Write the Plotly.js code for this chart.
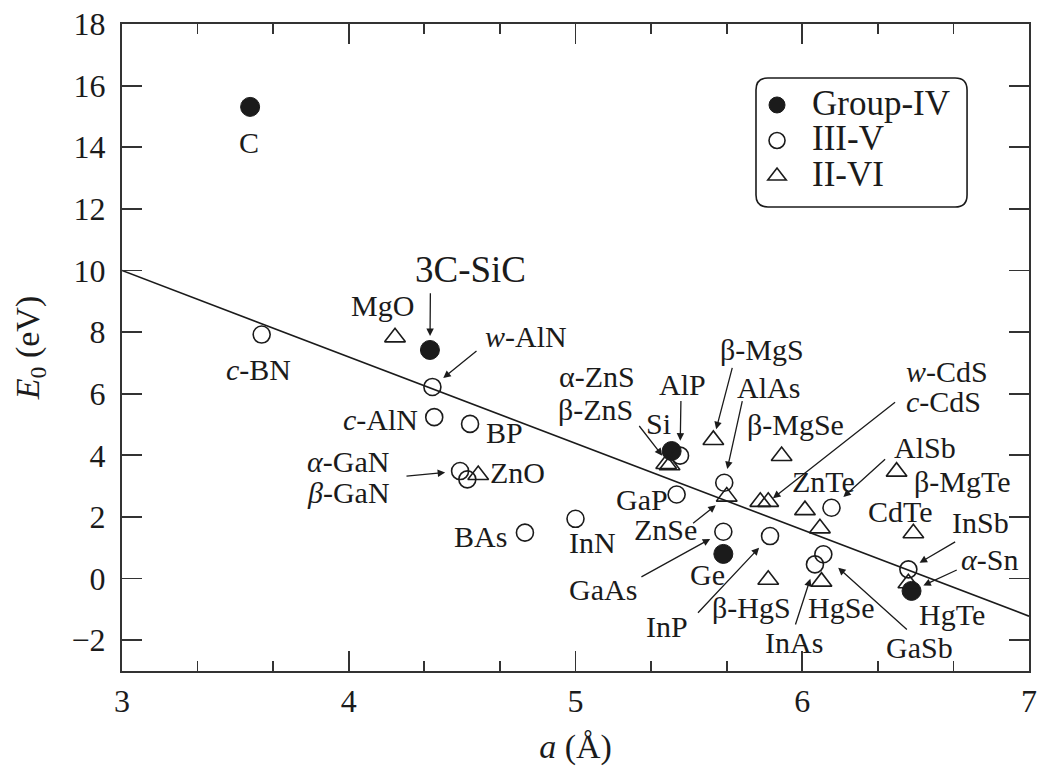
<!DOCTYPE html>
<html>
<head>
<meta charset="utf-8">
<script src="https://cdn.plot.ly/plotly-3.0.1.min.js"></script>
<style>
  html, body { margin: 0; padding: 0; background: #fff; }
  #chart { width: 1037px; height: 778px; }
</style>
</head>
<body>
<div id="chart"></div>
<script>
// Lattice constant a (Å) versus E0 gap (eV) for tetrahedral semiconductors

// Group-IV elements and SiC
const groupIVNames = ['C', '3C-SiC', 'Si', 'Ge', 'α-Sn'];
const groupIVA     = [3.565, 4.358, 5.424, 5.652, 6.482];
const groupIVE0    = [15.31, 7.42, 4.14, 0.80, -0.40];

// III-V compounds
const iiivNames = ['c-BN', 'w-AlN', 'c-AlN', 'BP', 'α-GaN', 'β-GaN', 'BAs', 'InN',
                   'AlP', 'GaP', 'AlAs', 'GaAs', 'InP', 'InAs', 'GaSb', 'AlSb', 'InSb'];
const iiivA     = [3.616, 4.369, 4.377, 4.535, 4.491, 4.523, 4.777, 5.000,
                   5.461, 5.446, 5.656, 5.652, 5.858, 6.056, 6.093, 6.129, 6.468];
const iiivE0    = [7.92, 6.22, 5.24, 5.02, 3.49, 3.22, 1.49, 1.94,
                   3.99, 2.73, 3.11, 1.52, 1.38, 0.46, 0.79, 2.30, 0.30];

// II-VI compounds
const iiviNames = ['MgO', 'ZnO', 'α-ZnS', 'β-ZnS', 'β-MgS', 'β-MgSe', 'ZnSe', 'c-CdS', 'w-CdS',
                   'ZnTe', 'CdSe', 'β-MgTe', 'CdTe', 'β-HgS', 'HgSe', 'HgTe'];
const iiviA     = [4.204, 4.571, 5.400, 5.415, 5.608, 5.909, 5.667, 5.815, 5.850,
                   6.012, 6.078, 6.416, 6.490, 5.850, 6.085, 6.468];
const iiviE0    = [7.83, 3.36, 3.72, 3.68, 4.50, 3.98, 2.66, 2.49, 2.49,
                   2.22, 1.63, 3.47, 1.47, -0.04, -0.10, -0.15];

// Linear trend line
const fitA  = [3, 7];
const fitE0 = [10.0, -1.22];

// Text labels (positions in data units)
const labelText = ['C', 'MgO', '3C-SiC', '<i>w</i>-AlN', '<i>c</i>-BN', '<i>c</i>-AlN', 'BP',
  '<i>α</i>-GaN', '<i>β</i>-GaN', 'ZnO', 'BAs', 'InN', 'α-ZnS', 'β-ZnS', 'AlP', 'Si',
  'β-MgS', 'AlAs', 'β-MgSe', '<i>w</i>-CdS', '<i>c</i>-CdS', 'ZnTe', 'AlSb', 'β-MgTe',
  'CdTe', 'InSb', '<i>α</i>-Sn', 'HgTe', 'GaSb', 'HgSe', 'InAs', 'β-HgS', 'InP', 'Ge',
  'GaAs', 'ZnSe', 'GaP'];
const labelA = [3.56, 4.147, 4.535, 4.782, 3.604, 4.142, 4.685,
  3.997, 3.997, 4.746, 4.579, 5.077, 5.095, 5.09, 5.47, 5.364,
  5.822, 5.853, 5.972, 6.638, 6.621, 6.092, 6.541, 6.704,
  6.435, 6.784, 6.824, 6.66, 6.515, 6.175, 5.964, 5.774, 5.404, 5.584,
  5.121, 5.395, 5.293];
const labelE0 = [14.14, 8.86, 10.03, 7.85, 6.78, 5.16, 4.74,
  3.80, 2.80, 3.45, 1.37, 1.18, 6.56, 5.49, 6.30, 5.03,
  7.43, 6.20, 5.00, 6.72, 5.75, 3.15, 4.26, 3.15,
  2.18, 1.83, 0.63, -1.16, -2.23, -0.93, -2.06, -0.93, -1.55, 0.14,
  -0.35, 1.60, 2.57];

// Pointer arrows: target compound, arrow tail (data units), gap before the marker (px)
const arrowTarget   = ['3C-SiC', 'w-AlN', 'α-GaN', 'β-ZnS', 'AlP', 'β-MgS', 'AlAs', 'w-CdS',
                       'AlSb', 'InSb', 'α-Sn', 'GaSb', 'InAs', 'InP', 'GaAs', 'ZnSe'];
const arrowTailA    = [4.36, 4.57, 4.248, 5.276, 5.465, 5.693, 5.737, 6.416,
                       6.372, 6.681, 6.688, 6.468, 5.968, 5.534, 5.284, 5.512];
const arrowTailE0   = [9.31, 7.43, 3.32, 5.00, 5.81, 6.89, 5.81, 5.76,
                       3.92, 1.22, 0.30, -1.70, -1.54, -1.16, 0.03, 1.76];
const arrowStandoff = [14, 14, 15, 12, 15, 11, 14, 6,
                       16, 13, 13, 20, 15, 16, 15, 14];

const FONT = 'Liberation Serif, Times New Roman, serif';
const INK = '#1b1b1b';

function findPoint(name) {
  const sets = [[groupIVNames, groupIVA, groupIVE0], [iiivNames, iiivA, iiivE0], [iiviNames, iiviA, iiviE0]];
  for (const [n, a, e] of sets) {
    const i = n.indexOf(name);
    if (i >= 0) return [a[i], e[i]];
  }
  return null;
}

const traces = [
  {
    x: fitA, y: fitE0, mode: 'lines', type: 'scatter',
    line: { color: INK, width: 1.6 }, showlegend: false, hoverinfo: 'skip'
  },
  {
    x: groupIVA, y: groupIVE0, text: groupIVNames, mode: 'markers', type: 'scatter',
    name: '<span style="font-size:35px">Group-IV</span>',
    marker: { symbol: 'circle', size: 19, color: INK, line: { width: 1, color: INK } }
  },
  {
    x: iiivA, y: iiivE0, text: iiivNames, mode: 'markers', type: 'scatter',
    name: '<span style="font-size:35px">III-V</span>',
    marker: { symbol: 'circle-open', size: 17, color: INK, line: { width: 1.6, color: INK } }
  },
  {
    x: iiviA, y: iiviE0, text: iiviNames, mode: 'markers', type: 'scatter',
    name: '<span style="font-size:35px">II-VI</span>',
    marker: { symbol: 'triangle-up-open', size: 18, color: INK, line: { width: 1.6, color: INK } }
  }
];

const annotations = [];
labelText.forEach((t, i) => {
  annotations.push({
    x: labelA[i], y: labelE0[i], xref: 'x', yref: 'y', text: t, showarrow: false,
    xanchor: 'center', yanchor: 'middle',
    font: { family: FONT, size: t === '3C-SiC' ? 37 : 30, color: INK }
  });
});
arrowTarget.forEach((name, i) => {
  const p = findPoint(name);
  annotations.push({
    x: p[0], y: p[1], xref: 'x', yref: 'y',
    ax: arrowTailA[i], ay: arrowTailE0[i], axref: 'x', ayref: 'y',
    text: '', showarrow: true, arrowhead: 2, arrowsize: 1.15, arrowwidth: 1.3,
    arrowcolor: INK, standoff: arrowStandoff[i]
  });
});

// Rounded frame behind the legend (paper units)
const x0 = 0.699, x1 = 0.9317, yt = 0.9165, yb = 0.7172, rx = 0.0132, ry = 0.0186;
const legendFrame = `M${x0 + rx},${yt} L${x1 - rx},${yt} Q${x1},${yt} ${x1},${yt - ry} ` +
  `L${x1},${yb + ry} Q${x1},${yb} ${x1 - rx},${yb} L${x0 + rx},${yb} Q${x0},${yb} ${x0},${yb + ry} ` +
  `L${x0},${yt - ry} Q${x0},${yt} ${x0 + rx},${yt} Z`;

const layout = {
  width: 1037, height: 778,
  margin: { l: 122, r: 8, t: 24, b: 107 },
  paper_bgcolor: '#ffffff', plot_bgcolor: '#ffffff',
  font: { family: FONT, color: INK, size: 30 },
  showlegend: true,
  legend: {
    x: 0.6836, y: 0.91, xanchor: 'left', yanchor: 'top',
    bgcolor: 'rgba(0,0,0,0)', borderwidth: 0, itemwidth: 60,
    traceorder: 'normal', font: { family: FONT, size: 25, color: INK }
  },
  xaxis: {
    range: [3, 7], dtick: 1, tick0: 3,
    ticks: 'inside', ticklen: 20, tickwidth: 1.8, tickcolor: '#333',
    minor: { dtick: 1 / 3, tick0: 3, ticks: 'inside', ticklen: 10, tickwidth: 1.8, tickcolor: '#333', showgrid: false },
    showline: true, linewidth: 2, linecolor: '#333', mirror: 'ticks',
    showgrid: false, zeroline: false,
    tickfont: { family: FONT, size: 32, color: INK },
    ticklabelstandoff: 1,
    title: { text: '<i>a</i> (Å)', font: { family: FONT, size: 34, color: INK }, standoff: 16 }
  },
  yaxis: {
    range: [-3, 18], dtick: 2, tick0: 0,
    ticks: 'inside', ticklen: 20, tickwidth: 1.8, tickcolor: '#333',
    showline: true, linewidth: 2, linecolor: '#333', mirror: 'ticks',
    showgrid: false, zeroline: false,
    tickfont: { family: FONT, size: 32, color: INK },
    ticklabelstandoff: 8,
    title: { text: '<i>E</i><sub>0</sub> (eV)', font: { family: FONT, size: 34, color: INK }, standoff: 22 }
  },
  shapes: [{
    type: 'path', xref: 'paper', yref: 'paper', path: legendFrame,
    line: { color: INK, width: 1.6 }, fillcolor: 'rgba(0,0,0,0)', layer: 'above'
  }],
  annotations: annotations,
  hovermode: false
};

Plotly.newPlot('chart', traces, layout, { displayModeBar: false, staticPlot: true });
</script>
</body>
</html>
